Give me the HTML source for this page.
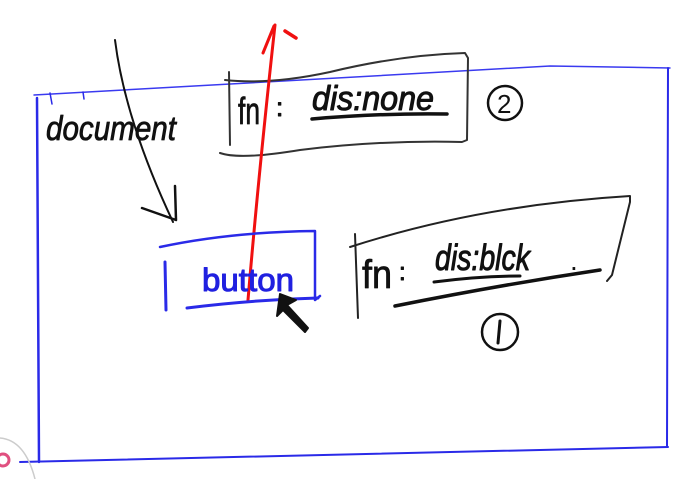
<!DOCTYPE html>
<html><head><style>
html,body{margin:0;padding:0;background:#fff;width:687px;height:479px;overflow:hidden}
text{font-family:"Liberation Sans",sans-serif}
</style></head><body>
<svg width="687" height="479" viewBox="0 0 687 479" xmlns="http://www.w3.org/2000/svg" fill="none" stroke-linecap="round" stroke-linejoin="round">
<path d="M34 95 Q300 80 550 66 L670 68" stroke="#3a3af0" stroke-width="1.5"/>
<path d="M668 68 L667 447" stroke="#2a2ae8" stroke-width="2"/>
<path d="M37 98 L39 462" stroke="#2a2ae8" stroke-width="2.5"/>
<path d="M20 462 Q300 455 668 447" stroke="#2a2ae8" stroke-width="2"/>
<path d="M50 93 L52 104 M83 92 L84 99" stroke="#2a2ae8" stroke-width="1.5"/>
<text x="46" y="140" font-size="34" fill="#111" stroke="#111" stroke-width="0.8" font-style="italic" textLength="130" lengthAdjust="spacingAndGlyphs">document</text>
<path d="M115 40 Q125 120 173 222" stroke="#111" stroke-width="2"/>
<path d="M175 186 L176 220 L142 208" stroke="#111" stroke-width="2.5"/>
<path d="M225 80 Q270 85 330 72 Q400 55 465 53 L468 58 L467 140 L462 142 Q380 140 300 150 Q240 160 220 153" stroke="#333" stroke-width="2"/>
<path d="M229 72 L230 145" stroke="#333" stroke-width="2"/>
<text x="238" y="124" font-size="38" fill="#111" stroke="#111" stroke-width="0.8" textLength="22" lengthAdjust="spacingAndGlyphs">fn</text>
<text x="276" y="116" font-size="26" fill="#111" stroke="#111" stroke-width="1">:</text>
<text x="312" y="110" font-size="34" fill="#111" stroke="#111" stroke-width="1" font-style="italic" textLength="122" lengthAdjust="spacingAndGlyphs">dis:none</text>
<path d="M312 119 Q380 113 447 114" stroke="#111" stroke-width="3.5"/>
<circle cx="505" cy="103" r="17" stroke="#111" stroke-width="2.5"/>
<text x="497" y="113" font-size="26" fill="#111">2</text>
<path d="M248 300 Q258 180 275 25" stroke="#f01010" stroke-width="3"/>
<path d="M263 53 L274 26" stroke="#f01010" stroke-width="3"/>
<path d="M285 31 L296 38" stroke="#f01010" stroke-width="3.5"/>
<path d="M160 247 Q230 232 315 231 L315 300 L320 296" stroke="#2a2ae8" stroke-width="2.5"/>
<path d="M187 308 Q250 300 318 298" stroke="#2a2ae8" stroke-width="3"/>
<path d="M165 262 L166 310" stroke="#2a2ae8" stroke-width="3"/>
<text x="202" y="291" font-size="32" fill="#2020e0" stroke="#2020e0" stroke-width="1" textLength="92" lengthAdjust="spacingAndGlyphs">button</text>
<path d="M280 294 L277 316 L283 310 L305 332 L308 328 L287 305 L296 300 Z" fill="#111" stroke="#111" stroke-width="2"/>
<path d="M350 247 Q480 205 630 196 L630 202 Q618 250 612 275 L607 281" stroke="#222" stroke-width="2"/>
<path d="M355 234 L358 318" stroke="#222" stroke-width="2"/>
<text x="362" y="288" font-size="40" fill="#111" stroke="#111" stroke-width="0.8" textLength="30" lengthAdjust="spacingAndGlyphs">fn</text>
<text x="399" y="280" font-size="24" fill="#111" stroke="#111" stroke-width="1">:</text>
<text x="435" y="270" font-size="36" fill="#111" stroke="#111" stroke-width="1" font-style="italic" textLength="95" lengthAdjust="spacingAndGlyphs">dis:blck</text>
<text x="570" y="270" font-size="28" fill="#111">.</text>
<path d="M434 282 Q480 276 520 276" stroke="#111" stroke-width="3"/>
<path d="M395 306 Q500 285 600 270" stroke="#111" stroke-width="3.5"/>
<circle cx="500" cy="332" r="18" stroke="#111" stroke-width="2.5"/>
<path d="M500 321 L498 343" stroke="#111" stroke-width="3"/>
<path d="M0 438 Q25 440 35 479" stroke="#ccc" stroke-width="1.5"/>
<circle cx="3" cy="460" r="6" stroke="#e05080" stroke-width="3"/>
</svg>
</body></html>
